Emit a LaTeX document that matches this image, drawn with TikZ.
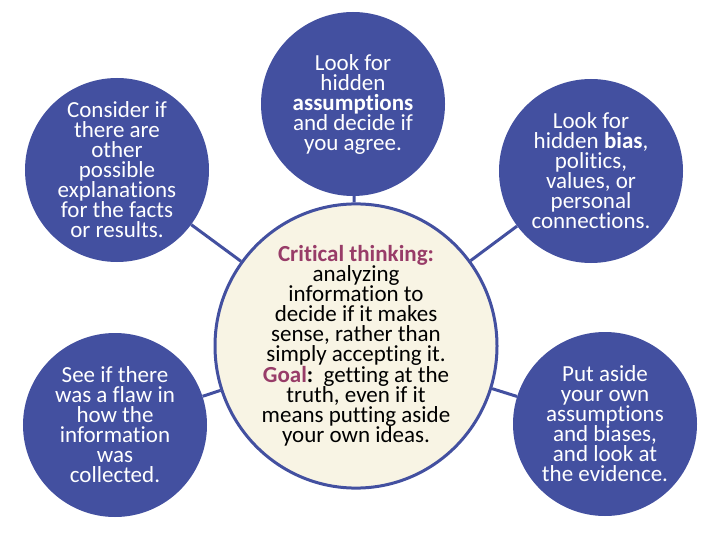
\documentclass[tikz,border=0pt]{standalone}
\usepackage{fontspec}
\setmainfont{Carlito}[Ligatures={NoCommon}]
\usetikzlibrary{shapes.geometric}
\definecolor{bubble}{HTML}{4350A0}
\definecolor{cream}{HTML}{F8F4E4}
\definecolor{berry}{HTML}{983C68}
\begin{document}
\begin{tikzpicture}[x=1bp,y=-1bp,
    idea/.style={circle,fill=bubble,text=white,minimum size=184bp,inner sep=0pt,align=center,font=\fontsize{23bp}{20bp}\selectfont},
    core/.style={ellipse,draw=bubble,line width=3bp,fill=cream,minimum width=282bp,minimum height=268bp,inner sep=0pt,align=center,font=\fontsize{23bp}{20bp}\selectfont},
    link/.style={draw=bubble,line width=3bp}]
    \useasboundingbox (0,0) rectangle (720,540);
    \node[core] (ct) at (356,346) {{\color{berry}\textbf{Critical thinking:}}\\analyzing\\information to\\decide if it makes\\sense, rather than\\simply accepting it.\\{\color{berry}\textbf{Goal}}\textbf{:}\ \ getting at the\\truth, even if it\\means putting aside\\your own ideas.};
    \node[idea] (tl) at (117,170) {Consider if\\there are\\other\\possible\\explanations\\for the facts\\or results.};
    \node[idea] (tc) at (353,104) {Look for\\hidden\\\textbf{assumptions}\\and decide if\\you agree.};
    \node[idea] (tr) at (591,171) {Look for\\hidden \textbf{bias},\\politics,\\values, or\\personal\\connections.};
    \node[idea] (bl) at (115,425) {See if there\\was a flaw in\\how the\\information\\was\\collected.};
    \node[idea] (br) at (605,424) {Put aside\\your own\\assumptions\\and biases,\\and look at\\the evidence.};
    \draw[link] (tl) -- (ct);
    \draw[link] (tc) -- (ct);
    \draw[link] (tr) -- (ct);
    \draw[link] (bl) -- (ct);
    \draw[link] (br) -- (ct);
\end{tikzpicture}
\end{document}
